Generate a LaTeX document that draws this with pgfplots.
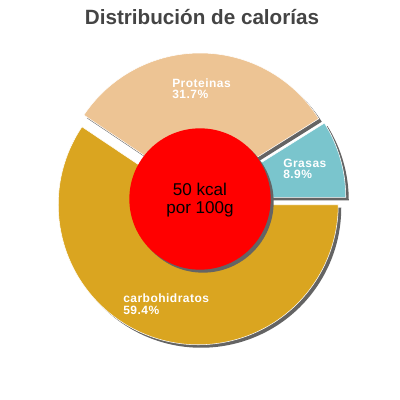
\documentclass[border=0pt]{standalone}
\usepackage{pgfplots}
\pgfplotsset{compat=1.18}
\usepackage{fontspec}
\setmainfont{Liberation Sans}
\newfontfamily\labfont[LetterSpace=4]{Liberation Sans}

\definecolor{grasas}{RGB}{122,197,205}
\definecolor{prot}{RGB}{237,196,148}
\definecolor{carbs}{RGB}{218,165,32}
\definecolor{shadowgray}{RGB}{100,100,100}
\definecolor{titlegray}{RGB}{68,68,68}

% 1 axis unit = 1 px of the 400x400 picture = 0.75pt
\newcommand{\pcx}{200}
\newcommand{\pcy}{-199}
\newcommand{\prad}{105pt}
\newcommand{\pexp}{4.5pt}

% shares: Grasas 8.9, Proteinas 31.7, carbohidratos 59.4 (x 3.6 deg)
% #1 colour, #2 start angle, #3 end angle
\newcommand{\sliceshadow}[3]{%
    \fill[shadowgray] ([shift={({(#2+#3)/2}:\pexp)}, xshift=2.25pt, yshift=-2.25pt]axis cs:\pcx,\pcy)
        -- ++(#2:\prad) arc[start angle=#2, end angle=#3, radius=\prad] -- cycle;}
\newcommand{\slice}[3]{%
    \filldraw[fill=#1, draw=white, line width=0.4pt] ([shift={({(#2+#3)/2}:\pexp)}]axis cs:\pcx,\pcy)
        -- ++(#2:\prad) arc[start angle=#2, end angle=#3, radius=\prad] -- cycle;}

\begin{document}
\begin{tikzpicture}
\begin{axis}[
    scale only axis,
    width=300pt, height=300pt,
    xmin=0, xmax=400, ymin=-400, ymax=0,
    hide axis,
    clip=false,
]
    \path (axis cs:0,0) rectangle (axis cs:400,-400);

    \sliceshadow{grasas}{0}{32.04}
    \sliceshadow{prot}{32.04}{146.16}
    \sliceshadow{carbs}{146.16}{360}
    \slice{grasas}{0}{32.04}
    \slice{prot}{32.04}{146.16}
    \slice{carbs}{146.16}{360}

    % centre disc
    \fill[shadowgray] ([xshift=2.25pt, yshift=-2.25pt]axis cs:\pcx,\pcy) circle[radius=53pt];
    \fill[red] (axis cs:\pcx,\pcy) circle[radius=53pt];

    \node[font=\fontsize{12.8pt}{14pt}\selectfont, anchor=base] at (axis cs:200,-195.7) {50 kcal};
    \node[font=\fontsize{12.8pt}{14pt}\selectfont, anchor=base] at (axis cs:200,-214) {por 100g};

    \node[font=\labfont\bfseries\fontsize{9pt}{10pt}\selectfont, text=white, anchor=base west, inner sep=0pt] at (axis cs:172,-87.7) {Proteinas};
    \node[font=\labfont\bfseries\fontsize{9pt}{10pt}\selectfont, text=white, anchor=base west, inner sep=0pt] at (axis cs:172,-99) {31.7\%};
    \node[font=\labfont\bfseries\fontsize{9pt}{10pt}\selectfont, text=white, anchor=base west, inner sep=0pt] at (axis cs:283,-167.3) {Grasas};
    \node[font=\labfont\bfseries\fontsize{9pt}{10pt}\selectfont, text=white, anchor=base west, inner sep=0pt] at (axis cs:283,-179) {8.9\%};
    \node[font=\labfont\bfseries\fontsize{9pt}{10pt}\selectfont, text=white, anchor=base west, inner sep=0pt] at (axis cs:123,-302.3) {carbohidratos};
    \node[font=\labfont\bfseries\fontsize{9pt}{10pt}\selectfont, text=white, anchor=base west, inner sep=0pt] at (axis cs:123,-314.3) {59.4\%};

    \node[font=\fontsize{15.5pt}{17pt}\selectfont\bfseries, text=titlegray, anchor=base] at (axis cs:202,-25) {Distribución de calorías};
\end{axis}
\end{tikzpicture}
\end{document}
